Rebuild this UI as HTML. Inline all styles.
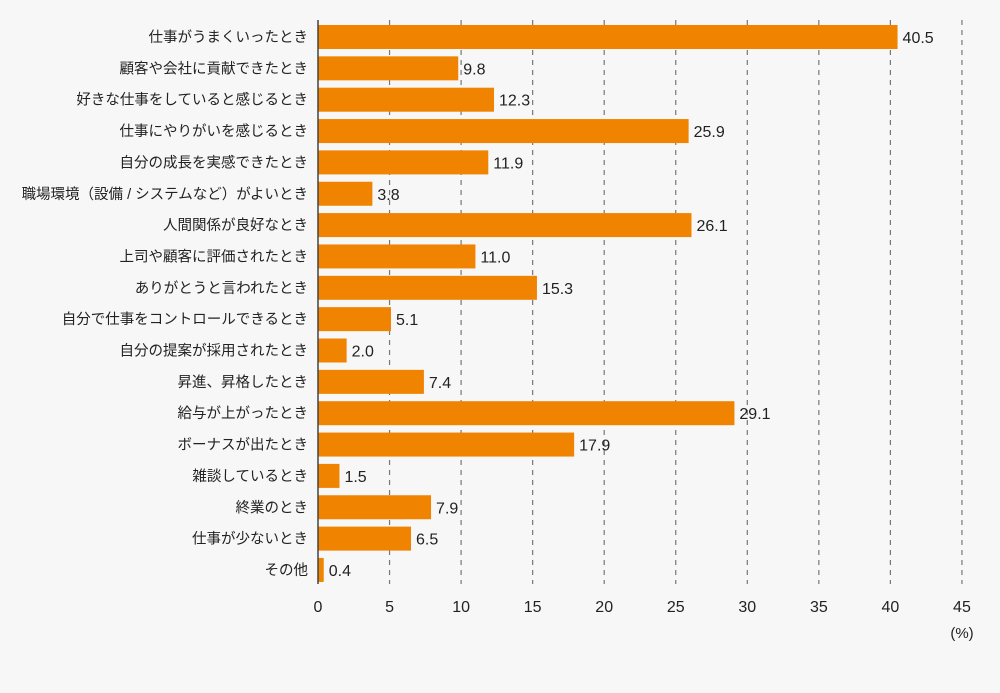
<!DOCTYPE html>
<html><head><meta charset="utf-8"><style>
body{margin:0;background:#f7f7f7;}
svg text{font-family:"Liberation Sans","Noto Sans CJK JP",sans-serif;fill:#222;}
</style></head><body>
<svg width="1000" height="688" viewBox="0 0 1000 688" xmlns="http://www.w3.org/2000/svg">
<rect width="1000" height="688" fill="#f7f7f7"/>
<g id="grid" stroke="#777" stroke-width="1.2" stroke-dasharray="5,5"></g>
<g id="bars"></g>
<line x1="318" y1="20" x2="318" y2="584" stroke="#444" stroke-width="1.5"/>
<g id="ticks" font-size="16" text-anchor="middle"></g>
<text x="962" y="638" font-size="15" text-anchor="middle">(%)</text>
</svg>
<script>
var labels=["仕事がうまくいったとき","顧客や会社に貢献できたとき","好きな仕事をしていると感じるとき","仕事にやりがいを感じるとき","自分の成長を実感できたとき","職場環境（設備 / システムなど）がよいとき","人間関係が良好なとき","上司や顧客に評価されたとき","ありがとうと言われたとき","自分で仕事をコントロールできるとき","自分の提案が採用されたとき","昇進、昇格したとき","給与が上がったとき","ボーナスが出たとき","雑談しているとき","終業のとき","仕事が少ないとき","その他"];
var vals=[40.5,9.8,12.3,25.9,11.9,3.8,26.1,11.0,15.3,5.1,2.0,7.4,29.1,17.9,1.5,7.9,6.5,0.4];
var ns="http://www.w3.org/2000/svg",u=14.31,x0=318;
function el(t,a,p,txt){var e=document.createElementNS(ns,t);for(var k in a)e.setAttribute(k,a[k]);if(txt!=null)e.textContent=txt;p.appendChild(e);return e;}
var g=document.getElementById("grid"),b=document.getElementById("bars"),tk=document.getElementById("ticks");
for(var i=1;i<=9;i++){var x=x0+i*5*u;el("line",{x1:x,y1:20,x2:x,y2:584},g);}
for(var i=0;i<=9;i++){el("text",{x:x0+i*5*u,y:612},tk,String(i*5));}
for(var i=0;i<18;i++){var cy=37+i*31.35;var w=vals[i]*u;
el("rect",{x:x0,y:cy-12,width:w,height:24,fill:"#f08300"},b);
el("text",{x:x0+w+5,y:cy+6,"font-size":"16"},b,vals[i].toFixed(1));
el("text",{x:308,y:cy+5,"font-size":"14.5","text-anchor":"end"},b,labels[i]);}
</script>
</body></html>
